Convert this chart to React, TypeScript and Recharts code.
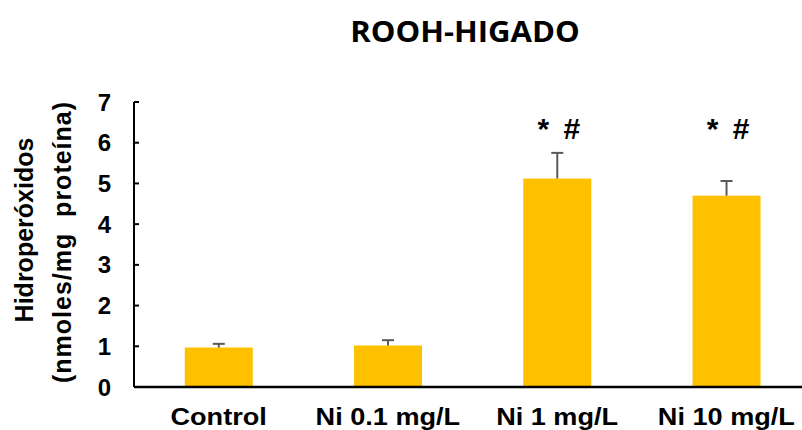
import { BarChart, Bar, XAxis, YAxis, LabelList } from "recharts"

const categories = ["Control", "Ni 0.1 mg/L", "Ni 1 mg/L", "Ni 10 mg/L"]
const means = [0.97, 1.02, 5.12, 4.7]
const errors = [0.09, 0.13, 0.63, 0.36]
const marks = ["", "", "* #", "* #"]
const yTicks = [0, 1, 2, 3, 4, 5, 6, 7]

const data = categories.map((name, i) => ({ name, mean: means[i], err: errors[i], mark: marks[i] }))

const FONT = "'Liberation Sans', Arial, sans-serif"
const BAR = "#FFC000"
const ERR = "#595959"
// the source picture is a little wider than tall, so text is stretched sideways
const STRETCH = 1.13

// bar + upward-only error whisker, scaled off the bar's own pixel height
function BarWithError(props: any) {
  const { x, y, width, height, payload, fill } = props
  const perUnit = height / payload.mean
  const cx = x + width / 2
  const top = y - payload.err * perUnit
  return (
    <g>
      <rect x={x} y={y} width={width} height={height} fill={fill} />
      <line x1={cx} x2={cx} y1={y} y2={top} stroke={ERR} strokeWidth={2} />
      <line x1={cx - 6} x2={cx + 6} y1={top} y2={top} stroke={ERR} strokeWidth={2} />
    </g>
  )
}

function MarkLabel(props: any) {
  const { x, y, width, height, value, index } = props
  if (!value) return null
  const perUnit = height / means[index]
  const ty = y + height - 6.1 * perUnit
  return (
    <text x={x + width / 2 + 3} y={ty} textAnchor="middle" fontFamily={FONT} fontWeight="bold" fontSize={30} letterSpacing={3} fill="#000" style={{ whiteSpace: "pre" }}>
      {value}
    </text>
  )
}

function XTick(props: any) {
  const { x, y, payload } = props
  return (
    <g transform={`translate(${x},${y}) scale(${STRETCH},1)`}>
      <text x={0} y={0} dy="0.71em" textAnchor="middle" fontFamily={FONT} fontWeight="bold" fontSize={24} fill="#000">
        {payload.value}
      </text>
    </g>
  )
}

function YLabel(props: any) {
  const { viewBox } = props
  const x1 = viewBox.x + 24
  const y1 = 230
  const x2 = viewBox.x + 62
  const y2 = 242
  const common = { textAnchor: "middle" as const, dominantBaseline: "central" as const, fontFamily: FONT, fontWeight: "bold", fontSize: 25, fill: "#000" }
  return (
    <g>
      <text x={x1} y={y1} transform={`rotate(-90, ${x1}, ${y1})`} {...common}>Hidroperóxidos</text>
      <text x={x2} y={y2} transform={`rotate(-90, ${x2}, ${y2})`} {...common} letterSpacing={1} style={{ whiteSpace: "pre" }}>{"(nmoles/mg  proteína)"}</text>
    </g>
  )
}

export default function App() {
  return (
    <div style={{ position: "relative", width: 802, height: 430, background: "#fff", overflow: "hidden" }}>
      <style>{`body{margin:0}`}</style>
      <div style={{ position: "absolute", top: 12, left: 0, width: 930, textAlign: "center", fontFamily: "'Open Sans', sans-serif", fontWeight: 700, fontSize: 28, color: "#000", transform: "scaleX(1.11)", transformOrigin: "465px 0" }}>
        ROOH-HIGADO
      </div>
      <BarChart width={811} height={430} data={data} margin={{ top: 102, right: 0, bottom: 0, left: 0 }} barCategoryGap="30%">
        <XAxis
          dataKey="name"
          height={43}
          tickLine={false}
          tickSize={0}
          tickMargin={21}
          axisLine={{ stroke: "#000", strokeWidth: 2.5 }}
          tick={(p: any) => <XTick {...p} />}
          interval={0}
        />
        <YAxis
          width={134}
          domain={[0, 7]}
          ticks={yTicks}
          interval={0}
          tickSize={-5}
          tickMargin={28}
          axisLine={{ stroke: "#000", strokeWidth: 2 }}
          tickLine={{ stroke: "#000", strokeWidth: 2 }}
          tick={{ fill: "#000", fontFamily: FONT, fontWeight: "bold", fontSize: 24 }}
          label={(p: any) => <YLabel {...p} />}
        />
        <Bar dataKey="mean" fill={BAR} isAnimationActive={false} shape={(p: any) => <BarWithError {...p} />}>
          <LabelList dataKey="mark" content={(p: any) => <MarkLabel {...p} />} />
        </Bar>
      </BarChart>
    </div>
  )
}
